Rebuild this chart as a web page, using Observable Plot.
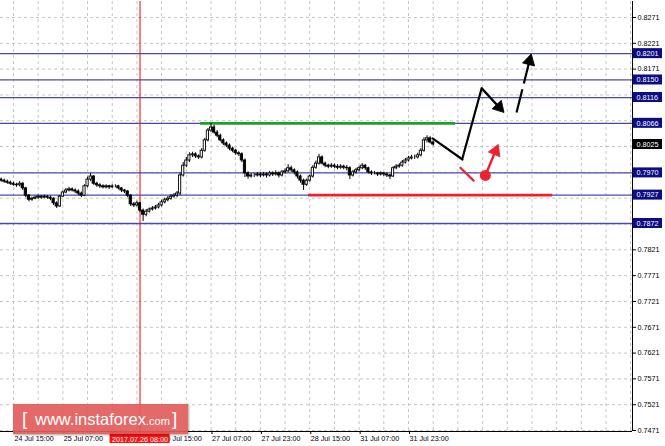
<!DOCTYPE html>
<html><head><meta charset="utf-8">
<script src="https://cdn.jsdelivr.net/npm/d3@7"></script>
<script src="https://cdn.jsdelivr.net/npm/@observablehq/plot@0.6"></script>
<style>
html,body{margin:0;padding:0;background:#fff;}
#wrap{position:relative;width:665px;height:446px;overflow:hidden;}
#wm{position:absolute;left:13px;top:404px;width:175px;height:30px;background:rgba(226,92,92,0.92);box-shadow:1px 1px 2px rgba(0,0,0,0.35);color:#fff;font-family:"Liberation Sans",Arial,sans-serif;white-space:nowrap;line-height:30px;}
#wm .b{font-size:19px;font-weight:300;position:absolute;top:0;}
#wm .t{font-size:16.5px;position:absolute;left:22px;top:0;}
#wm .c{font-size:11px;}
</style></head>
<body><div id="wrap"><div id="chart"></div>
<div id="wm"><span class="b" style="left:9px">[</span><span class="t">www.instaforex<span class="c">.com</span></span><span class="b" style="left:159px">]</span></div>
</div>
<script>
// hourly candles, bar index -4 .. 136 (bar 0 = 24 Jul 15:00), prices in pips (x 1e-4)
const firstIndex = -4;
const firstOpen = 7957;
const closes = [7955,7953,7951,7949,7947,7946,7949,7940,7926,7918,
 7920,7922,7924,7922,7924,7922,7920,7911,7905,7924,
 7932,7936,7938,7936,7934,7930,7926,7944,7957,7963,
 7949,7946,7944,7942,7944,7942,7944,7944,7940,7936,
 7934,7926,7909,7907,7911,7897,7889,7895,7899,7901,
 7903,7907,7913,7917,7920,7924,7926,7930,7965,7984,
 7994,8004,8006,8002,8000,8013,8033,8052,8058,8048,
 8042,8033,8027,8023,8017,8013,8008,8006,7994,7969,
 7963,7965,7965,7967,7965,7967,7965,7969,7967,7969,
 7965,7971,7973,7979,7975,7971,7963,7955,7947,7955,
 7963,7980,7988,8000,7988,7984,7982,7984,7982,7980,
 7982,7980,7979,7965,7971,7975,7979,7984,7979,7971,
 7969,7969,7967,7969,7967,7965,7963,7979,7982,7984,
 7990,7994,7998,8000,8000,8004,8013,8033,8037,8029,
 8025];
const highs = [7960,7958,7956,7954,7952,7950,7953,7951,7942,7928,
 7923,7925,7927,7926,7927,7926,7925,7922,7914,7926,
 7935,7940,7942,7941,7939,7937,7933,7947,7962,7969,
 7965,7952,7949,7947,7947,7946,7947,7947,7946,7942,
 7938,7936,7928,7913,7915,7913,7900,7899,7902,7905,
 7907,7911,7917,7921,7924,7928,7930,7934,7970,7990,
 8000,8009,8010,8009,8005,8017,8037,8056,8066,8062,
 8052,8045,8036,8030,8026,8020,8016,8011,8009,7997,
 7972,7969,7969,7971,7970,7971,7970,7973,7972,7974,
 7972,7975,7978,7986,7983,7978,7974,7966,7958,7958,
 7966,7984,7993,8006,8003,7991,7987,7988,7987,7986,
 7986,7985,7984,7982,7975,7979,7983,7988,7986,7981,
 7974,7973,7971,7972,7971,7970,7967,7982,7986,7988,
 7994,7998,8002,8004,8004,8008,8017,8038,8042,8040,
 8032];
const lows = [7952,7950,7948,7946,7944,7942,7943,7936,7922,7914,
 7915,7918,7919,7919,7920,7919,7916,7907,7901,7903,
 7922,7930,7933,7933,7930,7926,7922,7924,7941,7953,
 7946,7942,7940,7939,7939,7938,7940,7941,7937,7932,
 7930,7922,7905,7903,7904,7893,7876,7885,7892,7896,
 7898,7900,7904,7910,7914,7917,7921,7922,7926,7962,
 7980,7990,8000,7998,7996,7997,8010,8030,8048,8045,
 8038,8030,8023,8019,8013,8009,8004,8002,7990,7961,
 7958,7960,7961,7962,7961,7962,7960,7962,7963,7964,
 7960,7962,7968,7970,7971,7966,7958,7950,7936,7944,
 7952,7960,7977,7985,7985,7980,7978,7979,7978,7976,
 7977,7976,7974,7957,7962,7968,7972,7976,7975,7968,
 7965,7966,7963,7964,7963,7961,7957,7961,7976,7979,
 7981,7987,7991,7995,7996,7997,8001,8010,8028,8026,
 8022];

const levels = [0.8201, 0.8150, 0.8116, 0.8066, 0.7970, 0.7927, 0.7872];
const currentPrice = 0.8025;
const yTicks = [0.7471,0.7521,0.7571,0.7621,0.7671,0.7721,0.7771,0.7821,0.7871,0.7921,0.7971,0.8021,0.8071,0.8121,0.8171,0.8221,0.8271];
const xTickIndex = [0, 16, 48, 64, 80, 96, 112, 128];
const xTickLabels = ["24 Jul 15:00","25 Jul 07:00","26 Jul 15:00","27 Jul 07:00","27 Jul 23:00","28 Jul 15:00","31 Jul 07:00","31 Jul 23:00"];
const markerIndex = 41;
const markerLabel = "2017.07.26 08:00";
const greenSegment = [{from: 60.6, to: 143.2, price: 0.8066}];
const redSegment = [{from: 95.6, to: 174.7, price: 0.7927}];
// hand-drawn forecast (bar index, price)
const blackDown = [{i: 135.8, p: 0.8037}, {i: 145.5, p: 0.7996}];
const blackUp = [{i: 145.5, p: 0.7999}, {i: 151.7, p: 0.8134}];
const blackArrow = {i1: 151.7, p1: 0.8134, i2: 158.8, p2: 0.8088, color: "#000", dashed: false};
const blackDashArrow = {i1: 163.0, p1: 0.8087, i2: 167.7, p2: 0.8199, color: "#000", dashed: true};
const redArrow = {i1: 152.9, p1: 0.7965, i2: 157.0, p2: 0.8024, color: "#ea2231", dashed: false};
const redDash = [{i: 144.8, p: 0.7980}, {i: 149.1, p: 0.7955}];
const redDot = [{i: 152.9, p: 0.7965}];

const xDomain = [-4.21, 200.58];
const yDomain = [0.74691, 0.8302];
const plotW = 632, plotH = 430;

const candles = closes.map((c, k) => ({
  i: firstIndex + k,
  o: (k ? closes[k - 1] : firstOpen) / 1e4,
  c: c / 1e4, h: highs[k] / 1e4, l: lows[k] / 1e4
}));
const fmt = d3.format(".4f");
const levelLabels = levels.map(v => ({v, bg: "#0c0c84"})).concat([{v: currentPrice, bg: "#000"}]);
// tick labels hidden behind the boxed level labels are not printed
const labelled = levelLabels.map(d => d.v);
const tickText = d => labelled.some(v => Math.abs(v - d) < 0.0012) ? "" : fmt(d);

// arrow heads as filled triangles, set back from the tip along the shaft
const kx = plotW / (xDomain[1] - xDomain[0]);
const ky = plotH / (yDomain[1] - yDomain[0]);
const arrows = [blackArrow, blackDashArrow, redArrow].map(a => {
  const dx = (a.i2 - a.i1) * kx, dy = -(a.p2 - a.p1) * ky;
  const len = Math.hypot(dx, dy), back = 6.5;
  const hi = a.i2 - (dx / len) * back / kx;
  const hp = a.p2 + (dy / len) * back / ky;
  return {...a, hi, hp, angle: Math.atan2(dx, -dy) * 180 / Math.PI};
});

const chart = Plot.plot({
  width: 665, height: 446,
  marginLeft: 0, marginRight: 33, marginTop: 1, marginBottom: 15,
  x: {type: "linear", domain: xDomain, axis: null},
  y: {domain: yDomain, axis: null},
  style: {fontFamily: "'Liberation Sans', Arial, sans-serif", fontSize: "7.2px", background: "#fff", overflow: "visible", color: "#000"},
  marks: [
    Plot.ruleY(yTicks, {stroke: "#c6c6c6", strokeDasharray: "3,3"}),
    Plot.ruleX(d3.range(0, 201, 8), {stroke: "#c6c6c6", strokeDasharray: "3,3"}),
    Plot.ruleY(levels, {stroke: "#4a4aae", strokeWidth: 1.3}),
    Plot.ruleY(greenSegment, {y: "price", x1: "from", x2: "to", stroke: "#1f9e2a", strokeWidth: 2.6}),
    Plot.ruleY(redSegment, {y: "price", x1: "from", x2: "to", stroke: "#ea2231", strokeWidth: 2.6}),
    Plot.ruleX([markerIndex], {stroke: "#ff0000", strokeWidth: 1}),
    Plot.ruleX(candles, {x: "i", y1: "l", y2: "h", stroke: "#000", strokeWidth: 1}),
    Plot.rect(candles, {x1: d => d.i - 0.36, x2: d => d.i + 0.36, y1: "o", y2: "c",
      fill: d => d.c >= d.o ? "#fff" : "#000", stroke: "#000", strokeWidth: 0.9}),
    Plot.line(blackDown, {x: "i", y: "p", stroke: "#000", strokeWidth: 2.2}),
    Plot.line(blackUp, {x: "i", y: "p", stroke: "#000", strokeWidth: 2.2}),
    Plot.link(arrows.filter(a => !a.dashed), {x1: "i1", y1: "p1", x2: "hi", y2: "hp", stroke: "color", strokeWidth: 2.4}),
    Plot.link(arrows.filter(a => a.dashed), {x1: "i1", y1: "p1", x2: "hi", y2: "hp", stroke: "color", strokeWidth: 2.2, strokeDasharray: "24,6"}),
    Plot.dot(arrows, {x: "hi", y: "hp", symbol: "triangle", r: 4.6, rotate: "angle", fill: "color", stroke: "color", strokeWidth: 0.8}),
    Plot.line(redDash, {x: "i", y: "p", stroke: "#ea2231", strokeWidth: 2.2}),
    Plot.dot(redDot, {x: "i", y: "p", r: 5.5, fill: "#ea2231"}),
    Plot.ruleX([xDomain[1]], {stroke: "#000", strokeWidth: 1}),
    Plot.ruleY([yDomain[0]], {stroke: "#000", strokeWidth: 1}),
    Plot.axisY(yTicks, {anchor: "right", tickSize: 3, tickPadding: 2, tickFormat: tickText, label: null}),
    Plot.axisX(xTickIndex, {anchor: "bottom", tickSize: 3, tickPadding: 1, textAnchor: "start", dx: 1,
      tickFormat: d => xTickLabels[xTickIndex.indexOf(d)], label: null}),
    Plot.rect(levelLabels, {x1: () => xDomain[1], x2: () => xDomain[1], y1: "v", y2: "v",
      insetLeft: 1, insetRight: -30, insetTop: -5, insetBottom: -5, fill: "bg"}),
    Plot.text(levelLabels, {x: () => xDomain[1], y: "v", text: d => fmt(d.v), dx: 4, textAnchor: "start", fill: "#fff"}),
    Plot.rect([markerIndex], {x1: d => d, x2: d => d, y1: () => yDomain[0], y2: () => yDomain[0],
      insetLeft: -30, insetRight: -30, insetTop: 1, insetBottom: -12, fill: "#ff1010"}),
    Plot.text([markerIndex], {x: d => d, y: () => yDomain[0], dy: 8, text: () => markerLabel, fill: "#fff"})
  ]
});
document.getElementById("chart").appendChild(chart);
</script>
</body></html>
